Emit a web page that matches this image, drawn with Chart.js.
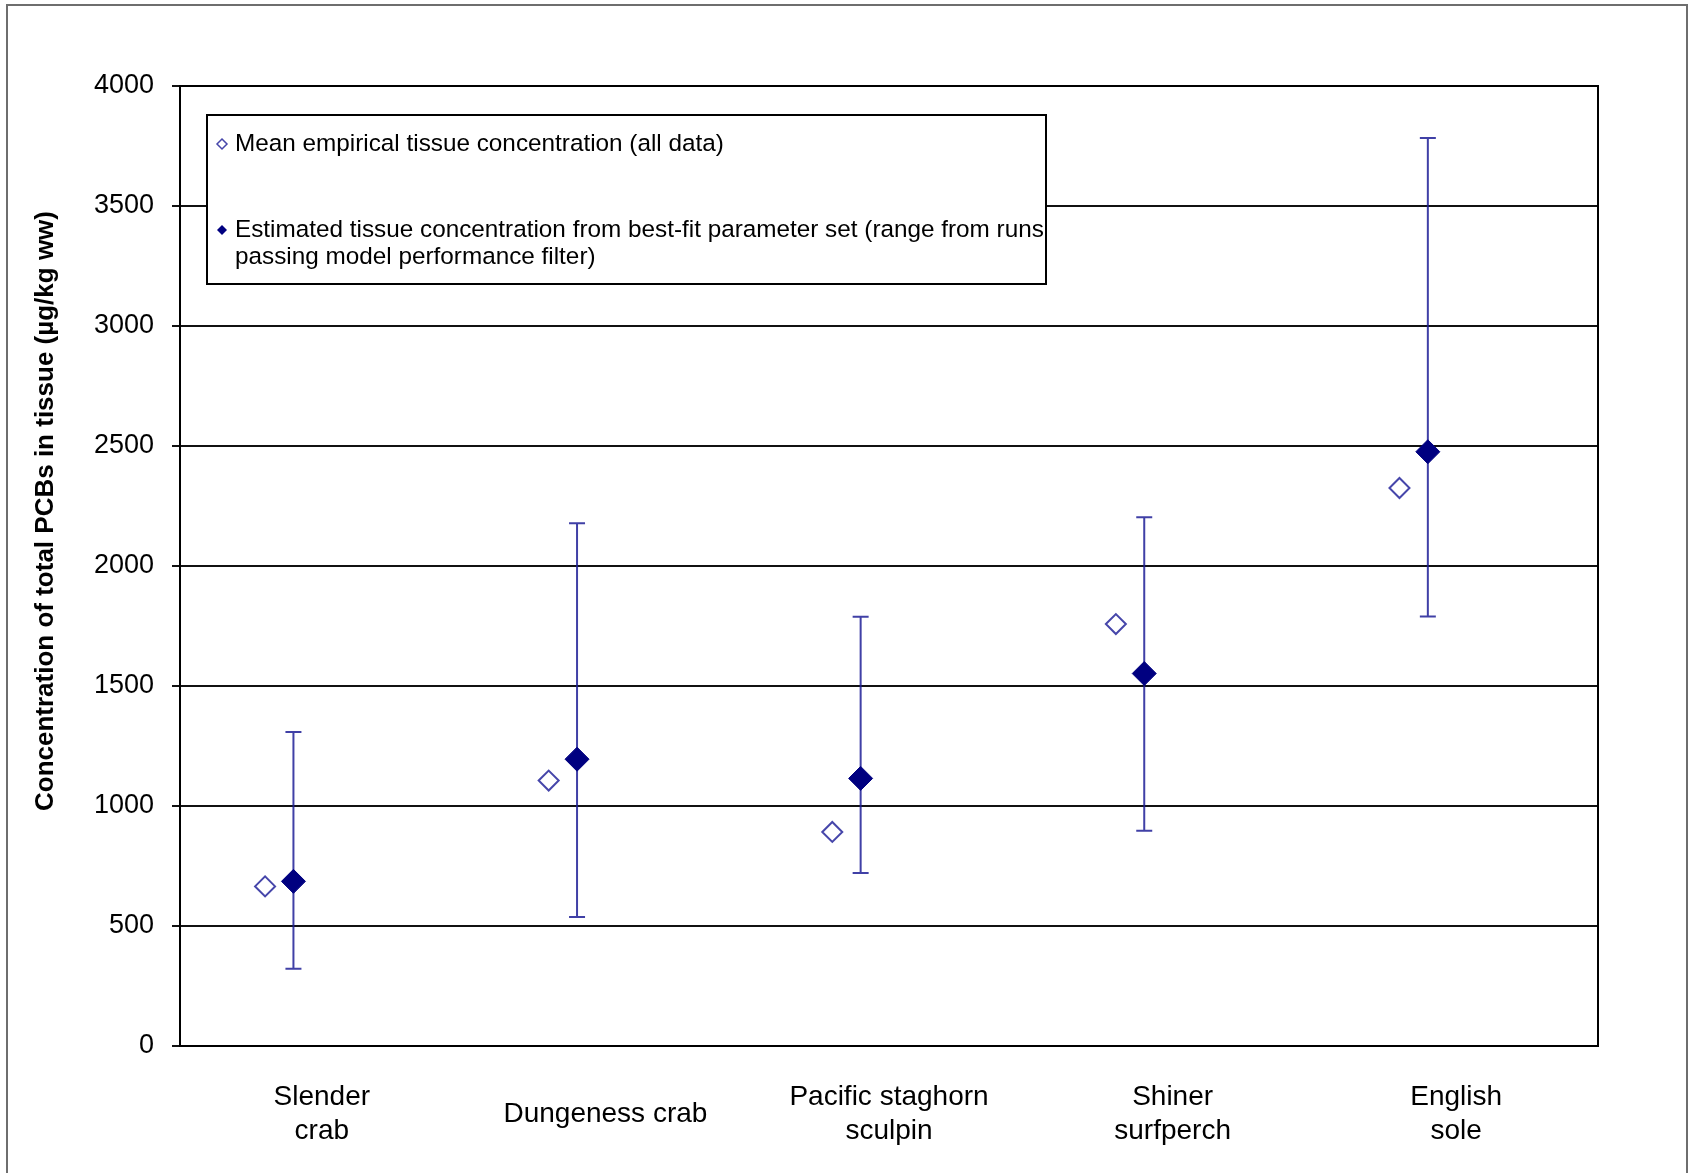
<!DOCTYPE html>
<html>
<head>
<meta charset="utf-8">
<title>Total PCBs in tissue</title>
<script src="https://cdn.jsdelivr.net/npm/chart.js@4.4.1/dist/chart.umd.min.js"></script>
<style>
  html, body { margin: 0; padding: 0; background: #fff; overflow: hidden; }
  #wrap { position: relative; width: 1688px; height: 1173px; }
  #frame { position: absolute; left: 6px; top: 4px; width: 1682px; height: 1200px; box-sizing: border-box; border: 2px solid #6e6e6e; pointer-events: none; }
</style>
</head>
<body>
<div id="wrap">
  <canvas id="chart" width="1688" height="1173"></canvas>
  <div id="frame"></div>
</div>
<script>
// species along the x axis (one array per label = one line)
const categories = [['Slender', 'crab'], ['Dungeness crab'], ['Pacific staghorn', 'sculpin'], ['Shiner', 'surfperch'], ['English', 'sole']];

// values, µg/kg ww
const meanEmpirical = [665, 1106, 892, 1758, 2325];
const bestFit = [686, 1195, 1115, 1552, 2476];
const rangeLow = [322, 537, 721, 897, 1790];
const rangeHigh = [1308, 2178, 1789, 2203, 3783];

const yTicks = [0, 500, 1000, 1500, 2000, 2500, 3000, 3500, 4000];

const legendLines = [
  ['Mean empirical tissue concentration (all data)'],
  ['Estimated tissue concentration from best-fit parameter set (range from runs', 'passing model performance filter)']
];
const yTitle = 'Concentration of total PCBs in tissue (µg/kg ww)';

// the two series sit left of each category centre, like Excel clusters
const meanShift = -0.2;
const fitShift = -0.1;

const NAVY = '#000080';
const OPEN = '#4646aa';
const FONT = "'Liberation Sans', Arial, sans-serif";

Chart.defaults.font.family = FONT;
Chart.defaults.color = '#000';

const plotFrame = {
  id: 'plotFrame',
  beforeDatasetsDraw(chart) {
    const { ctx, chartArea: a } = chart;
    ctx.save();
    ctx.strokeStyle = '#000';
    ctx.lineWidth = 2;
    ctx.strokeRect(a.left, a.top, a.right - a.left, a.bottom - a.top);
    ctx.restore();
  }
};

const errorBars = {
  id: 'errorBars',
  beforeDatasetsDraw(chart) {
    const { ctx, scales: { x, y } } = chart;
    ctx.save();
    ctx.strokeStyle = 'rgba(30, 30, 150, 0.85)';
    ctx.lineWidth = 2;
    rangeLow.forEach((lo, i) => {
      const px = x.getPixelForValue(i + fitShift);
      const top = y.getPixelForValue(rangeHigh[i]);
      const bot = y.getPixelForValue(lo);
      ctx.beginPath();
      ctx.moveTo(px, top); ctx.lineTo(px, bot);
      ctx.moveTo(px - 8, top); ctx.lineTo(px + 8, top);
      ctx.moveTo(px - 8, bot); ctx.lineTo(px + 8, bot);
      ctx.stroke();
    });
    ctx.restore();
  }
};

function diamond(ctx, x, y, r) {
  ctx.beginPath();
  ctx.moveTo(x, y - r);
  ctx.lineTo(x + r, y);
  ctx.lineTo(x, y + r);
  ctx.lineTo(x - r, y);
  ctx.closePath();
}

const boxLegend = {
  id: 'boxLegend',
  afterDraw(chart) {
    const { ctx, chartArea: a } = chart;
    const left = a.left + 27, top = a.top + 29, w = 839, h = 169;
    ctx.save();
    ctx.fillStyle = '#fff';
    ctx.fillRect(left, top, w, h);
    ctx.strokeStyle = '#000';
    ctx.lineWidth = 2;
    ctx.strokeRect(left, top, w, h);

    ctx.font = '24.3px ' + FONT;
    ctx.textBaseline = 'middle';

    // open marker
    diamond(ctx, left + 15, top + 29, 5);
    ctx.strokeStyle = OPEN;
    ctx.lineWidth = 1.5;
    ctx.stroke();
    ctx.fillStyle = '#000';
    legendLines[0].forEach((t, k) => ctx.fillText(t, left + 28, top + 29 + k * 27));

    // filled marker
    diamond(ctx, left + 15, top + 115, 5);
    ctx.fillStyle = NAVY;
    ctx.fill();
    ctx.fillStyle = '#000';
    legendLines[1].forEach((t, k) => ctx.fillText(t, left + 28, top + 115 + k * 27));
    ctx.restore();
  }
};

const sideTitle = {
  id: 'sideTitle',
  afterDraw(chart) {
    const { ctx, chartArea: a } = chart;
    ctx.save();
    ctx.translate(46, (a.top + a.bottom) / 2 - 55);
    ctx.rotate(-Math.PI / 2);
    ctx.font = 'bold 26px ' + FONT;
    ctx.textAlign = 'center';
    ctx.textBaseline = 'middle';
    ctx.fillStyle = '#000';
    ctx.fillText(yTitle, 0, 0);
    ctx.restore();
  }
};

new Chart(document.getElementById('chart'), {
  type: 'scatter',
  data: {
    datasets: [
      {
        label: legendLines[0].join(' '),
        data: meanEmpirical.map((v, i) => ({ x: i + meanShift, y: v })),
        pointStyle: 'rectRot',
        pointRadius: 10,
        pointBackgroundColor: '#fff',
        pointBorderColor: OPEN,
        pointBorderWidth: 2
      },
      {
        label: legendLines[1].join(' '),
        data: bestFit.map((v, i) => ({ x: i + fitShift, y: v })),
        pointStyle: 'rectRot',
        pointRadius: 12,
        pointBackgroundColor: NAVY,
        pointBorderColor: NAVY,
        pointBorderWidth: 1
      }
    ]
  },
  options: {
    responsive: false,
    animation: false,
    devicePixelRatio: 1,
    layout: { padding: { left: 0, top: 86, right: 90, bottom: 0 } },
    plugins: {
      legend: { display: false },
      tooltip: { enabled: false }
    },
    scales: {
      x: {
        type: 'linear',
        min: -0.5,
        max: 4.5,
        afterBuildTicks: axis => { axis.ticks = categories.map((c, i) => ({ value: i })); },
        afterFit: s => { s.height = 127; },
        grid: { display: false, drawTicks: false },
        border: { display: false },
        ticks: {
          autoSkip: false,
          maxRotation: 0,
          crossAlign: 'center',
          padding: 51,
          font: { size: 28, lineHeight: 1.23 },
          callback: v => categories[Math.round(v)]
        }
      },
      y: {
        min: 0,
        max: 4000,
        afterBuildTicks: axis => { axis.ticks = yTicks.map(v => ({ value: v })); },
        afterFit: s => { s.width = 180; },
        grid: { color: '#111', lineWidth: 2, drawTicks: true, tickLength: 8 },
        border: { display: false },
        ticks: { padding: 18, font: { size: 27 }, callback: v => String(v) }
      }
    }
  },
  plugins: [plotFrame, errorBars, boxLegend, sideTitle]
});
</script>
</body>
</html>
